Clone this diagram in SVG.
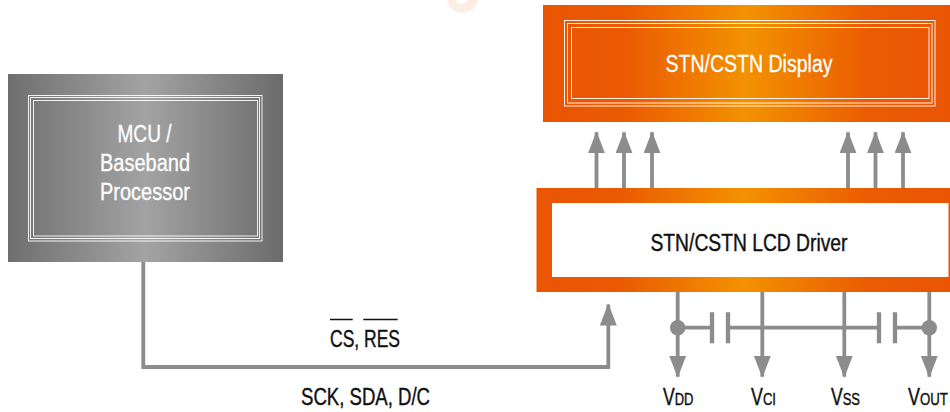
<svg xmlns="http://www.w3.org/2000/svg" width="950" height="412" viewBox="0 0 950 412">
<defs>
<linearGradient id="org"><stop offset="0" stop-color="#e95504"/><stop offset="0.2" stop-color="#ea5a02"/><stop offset="0.5" stop-color="#f39200"/><stop offset="0.8" stop-color="#ea5c02"/><stop offset="1" stop-color="#e95504"/></linearGradient>
<linearGradient id="gry"><stop offset="0" stop-color="#6f6f6f"/><stop offset="0.5" stop-color="#a2a3a2"/><stop offset="1" stop-color="#6b6b6b"/></linearGradient>
<marker id="ah" markerUnits="userSpaceOnUse" markerWidth="22" markerHeight="17" refX="21" refY="8.500" viewBox="0 0 22 17" orient="auto"><path d="M0 0L22 8.500L0 17L0 0Z" fill="#8c8c8c"/></marker>
</defs>
<style>
text{font-family:"Liberation Sans",Arial,sans-serif;font-size:23px;text-anchor:start}
.w{fill:#fff;stroke:#fff;stroke-width:.3}
.k{fill:#111;stroke:#111;stroke-width:.4}
.dbl{fill:none;stroke:#fff;stroke-width:1;opacity:.9}
.c{fill:none;stroke:#8c8c8c;stroke-width:3.800}
.ca{fill:none;stroke:#8c8c8c;stroke-width:3.800;marker-end:url(#ah)}
.s{font-size:17px}
</style>
<path d="M447 0C450 17 475 17 478 0L468 0C465 5 458 5 455 0Z" fill="#fdeee4"/>
<g id="connectors">
<path class="ca" d="M143.300 262V367H608.300V304.500"/>
<path class="ca" d="M596.500 188V132.300"/><path class="ca" d="M624 188V132.300"/><path class="ca" d="M652 188V132.300"/>
<path class="ca" d="M848 188V132.300"/><path class="ca" d="M875.500 188V132.300"/><path class="ca" d="M903 188V132.300"/>
<path class="ca" d="M677.700 292V376.700"/><path class="ca" d="M762.300 292V376.700"/><path class="ca" d="M844.300 292V376.700"/><path class="ca" d="M929.300 292V376.700"/>
<path class="c" d="M677.700 327.700H712M728 327.700H879M895 327.700H929.300"/>
<path class="c" d="M712 312.300V343.300M728 312.300V343.300M879 312.300V343.300M895 312.300V343.300" style="stroke-width:4.300"/>
<circle cx="677.700" cy="327.700" r="7.700" fill="#8c8c8c"/><circle cx="929.300" cy="327.700" r="7.700" fill="#8c8c8c"/>
</g>
<g id="display">
<rect x="543" y="5" width="407" height="117" fill="url(#org)"/>
<rect class="dbl" x="564.500" y="20.500" width="370.500" height="85.500"/><rect class="dbl" x="567.500" y="23.500" width="364.500" height="79.500"/><rect class="dbl" x="571.500" y="27.500" width="357.500" height="71"/>
<text class="w" x="665.500" y="71.500" textLength="167" lengthAdjust="spacingAndGlyphs">STN/CSTN Display</text>
</g>
<g id="mcu">
<rect x="8" y="74" width="275" height="188" fill="url(#gry)"/>
<rect class="dbl" x="28.500" y="95.500" width="233.500" height="145.500"/><rect class="dbl" x="30.500" y="97.500" width="229" height="141"/><rect class="dbl" x="33.500" y="100.500" width="224" height="135.500"/>
<text class="w" x="117.500" y="141.500" textLength="54" lengthAdjust="spacingAndGlyphs">MCU /</text>
<text class="w" x="100" y="171" textLength="90" lengthAdjust="spacingAndGlyphs">Baseband</text>
<text class="w" x="100" y="200" textLength="90" lengthAdjust="spacingAndGlyphs">Processor</text>
</g>
<g id="driver">
<rect x="536.500" y="188" width="413.500" height="104" fill="url(#org)"/>
<rect x="552" y="203" width="396.500" height="74" fill="#fff"/>
<text class="k" x="650.500" y="250.500" textLength="197" lengthAdjust="spacingAndGlyphs">STN/CSTN LCD Driver</text>
</g>
<g id="labels">
<text class="k" x="330" y="346.500" textLength="70" lengthAdjust="spacingAndGlyphs">CS, RES</text>
<path d="M330 319.500H352.700M363.300 319.500H397.700" stroke="#111" stroke-width="1.300"/>
<text class="k" x="301" y="405" textLength="129" lengthAdjust="spacingAndGlyphs">SCK, SDA, D/C</text>
<text class="k" transform="translate(663 405) scale(.765 1)">V<tspan class="s">DD</tspan></text>
<text class="k" transform="translate(751 405) scale(.774 1)">V<tspan class="s">CI</tspan></text>
<text class="k" transform="translate(831 405) scale(.763 1)">V<tspan class="s">SS</tspan></text>
<text class="k" transform="translate(908 405) scale(.78 1)">V<tspan class="s">OUT</tspan></text>
</g>
</svg>
